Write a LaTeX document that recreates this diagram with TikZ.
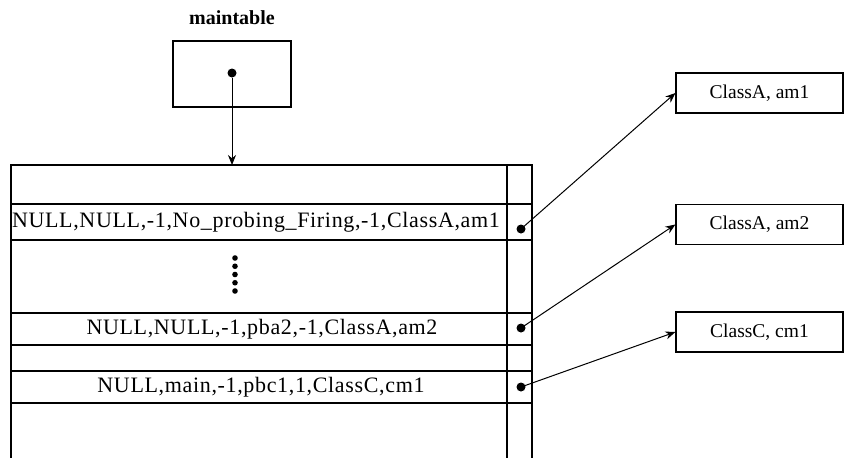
\documentclass[tikz,border=0pt]{standalone}
\usepackage{fontspec}
\setmainfont{Liberation Serif}
\newfontfamily\rowfont[LetterSpace=3]{Liberation Serif}
\usetikzlibrary{arrows.meta}
\tikzset{
  grid/.style={line width=1.2pt},
  box/.style={draw, line width=1.2pt, rectangle, inner sep=0pt},
  rowtext/.style={inner sep=0pt, font=\fontsize{22}{24}\rowfont},
  classbox/.style={box, minimum width=167pt, minimum height=40pt, font=\fontsize{19.5}{21}\selectfont},
  blob/.style={circle, fill=black, inner sep=0pt, minimum size=9pt},
  link/.style={line width=1pt, -{Stealth[length=10pt,width=8pt]}}
}
\begin{document}
\begin{tikzpicture}[x=1pt,y=-1pt]
\useasboundingbox (0,0) rectangle (847,458);
% maintable
\node[font=\fontsize{20}{22}\selectfont\bfseries] (mlabel) at (232,18) {maintable};
\node[box, minimum width=118pt, minimum height=66pt] (mt) at (232,74) {};
\node[blob] (md) at (232,73) {};
\coordinate (ttop) at (232,165);
\draw[link] (md) -- (ttop);
% table
\draw[grid] (11,458) -- (11,165) -- (532,165) -- (532,458);
\draw[grid] (507,165) -- (507,458);
\foreach \yy in {204,240,313,345,371,403} \draw[grid] (11,\yy) -- (532,\yy);
\node[rowtext] (r1) at (256,222) {NULL,NULL,-1,No\_probing\_Firing,-1,ClassA,am1};
\node[rowtext] (r2) at (262,329) {NULL,NULL,-1,pba2,-1,ClassA,am2};
\node[rowtext] (r3) at (261,387) {NULL,main,-1,pbc1,1,ClassC,cm1};
\foreach \yy in {258,266.25,274.5,282.75,291} \fill (235,\yy) circle (2.8pt);
\node[blob] (d1) at (521,229) {};
\node[blob] (d2) at (521,328) {};
\node[blob] (d3) at (521,387) {};
% class boxes
\node[classbox] (c1) at (759.5,93) {ClassA, am1};
\node[classbox] (c2) at (759.5,224.5) {ClassA, am2};
\node[classbox] (c3) at (759.5,332) {ClassC, cm1};
\draw[link] (d1.center) -- (c1.west);
\draw[link] (d2.center) -- (c2.west);
\draw[link] (d3.center) -- (c3.west);
\end{tikzpicture}
\end{document}
